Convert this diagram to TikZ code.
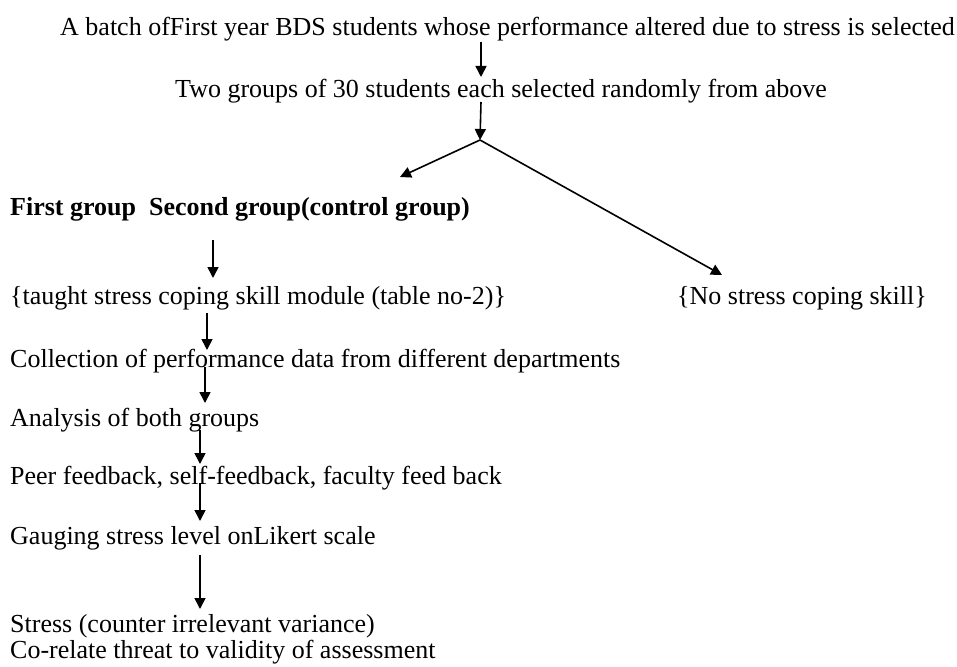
\documentclass[tikz,border=0pt]{standalone}
\usepackage{fontspec}
\setmainfont{Liberation Serif}
\usetikzlibrary{arrows.meta}
\begin{document}
\begin{tikzpicture}[x=1pt,y=-1pt,
  txt/.style={anchor=mid west,inner sep=0pt,font=\fontsize{26}{30}\selectfont},
  arr/.style={line width=1.6pt,-{Triangle[length=11pt,width=11pt]}}]
\useasboundingbox (0,0) rectangle (957,666);
\node[txt] (top) at (60,33) {A batch ofFirst year BDS students whose performance altered due to stress is selected};
\node[txt] (two) at (175,95) {Two groups of 30 students each selected randomly from above};
\node[txt,font=\fontsize{26}{30}\selectfont\bfseries] (grp) at (10,213) {First group\ \ Second group(control group)};
\node[txt] (taught) at (10,302) {\{taught stress coping skill module (table no-2)\}};
\node[txt] (nost) at (677,302) {\{No stress coping skill\}};
\node[txt] (coll) at (10,365) {Collection of performance data from different departments};
\node[txt] (anal) at (10,424) {Analysis of both groups};
\node[txt] (peer) at (10,482) {Peer feedback, self-feedback, faculty feed back};
\node[txt] (gaug) at (10,542) {Gauging stress level onLikert scale};
\node[txt] (strs) at (10,630) {Stress (counter irrelevant variance)};
\node[txt] (corr) at (10,656) {Co-relate threat to validity of assessment};
% connector end points
\coordinate (a1s) at (481,42);  \coordinate (a1e) at (481,77);
\coordinate (a2s) at (481,102); \coordinate (apex) at (480,140);
\coordinate (lt) at (400,177);  \coordinate (rt) at (722,275);
\coordinate (a5s) at (213,240); \coordinate (a5e) at (213,278);
\coordinate (a6s) at (207,313); \coordinate (a6e) at (207,350);
\coordinate (a7s) at (205,367); \coordinate (a7e) at (205,403);
\coordinate (a8s) at (200,430); \coordinate (a8e) at (200,464);
\coordinate (a9s) at (200,483); \coordinate (a9e) at (200,521);
\coordinate (a10s) at (200,555); \coordinate (a10e) at (200,609);
\draw[arr] (a1s) -- (a1e);
\draw[arr] (a2s) -- (apex);
\draw[arr] (apex) -- (lt);
\draw[arr] (apex) -- (rt);
\draw[arr] (a5s) -- (a5e);
\draw[arr] (a6s) -- (a6e);
\draw[arr] (a7s) -- (a7e);
\draw[arr] (a8s) -- (a8e);
\draw[arr] (a9s) -- (a9e);
\draw[arr] (a10s) -- (a10e);
\end{tikzpicture}
\end{document}
